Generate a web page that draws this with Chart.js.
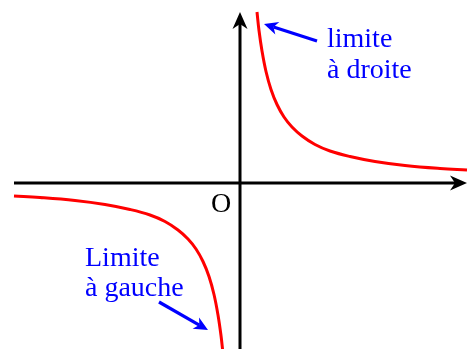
<!DOCTYPE html>
<html>
<head>
<meta charset="utf-8">
<script src="https://cdn.jsdelivr.net/npm/chart.js@4/dist/chart.umd.min.js"></script>
<style>
html,body{margin:0;padding:0;background:#fff;}
#wrap{width:470px;height:349px;}
</style>
</head>
<body>
<div id="wrap"><canvas id="c" width="470" height="349"></canvas></div>
<script>
// Right branch (x > 0)
const rightX = [0.34, 0.38, 0.44, 0.52, 0.62, 0.74, 0.88, 1.04, 1.24, 1.5, 1.8, 2.2, 2.7, 3.3, 4.0, 4.54];
const rightY = [3.42, 3.05, 2.64, 2.23, 1.87, 1.57, 1.32, 1.12, 0.94, 0.77, 0.64, 0.53, 0.43, 0.35, 0.29, 0.26];
// Left branch (x < 0)
const leftX = [-4.52, -4.0, -3.3, -2.7, -2.2, -1.8, -1.5, -1.24, -1.04, -0.88, -0.74, -0.62, -0.52, -0.44, -0.38, -0.34];
const leftY = [-0.26, -0.29, -0.35, -0.43, -0.53, -0.64, -0.77, -0.94, -1.12, -1.32, -1.57, -1.87, -2.23, -2.64, -3.05, -3.41];
// Axis extents (data units)
const xAxisRange = [-4.52, 4.54];
const yAxisRange = [-3.32, 3.42];
// Texts
const originLabel = 'O';
const rightLabel = ['limite', 'à droite'];
const leftLabel = ['Limite', 'à gauche'];

const toPts = (xs, ys) => xs.map((x, i) => ({x: x, y: ys[i]}));

function stealth(ctx, tx, ty, angle, len, half, notch, color) {
  ctx.save();
  ctx.translate(tx, ty);
  ctx.rotate(angle);
  ctx.beginPath();
  ctx.moveTo(0, 0);
  ctx.lineTo(-len, -half);
  ctx.lineTo(-len + notch, 0);
  ctx.lineTo(-len, half);
  ctx.closePath();
  ctx.fillStyle = color;
  ctx.fill();
  ctx.restore();
}

function arrowLine(ctx, x1, y1, x2, y2, color, lw, len, half, notch) {
  const a = Math.atan2(y2 - y1, x2 - x1);
  ctx.save();
  ctx.strokeStyle = color;
  ctx.lineWidth = lw;
  ctx.lineCap = 'butt';
  ctx.beginPath();
  ctx.moveTo(x1, y1);
  ctx.lineTo(x2 - Math.cos(a) * (len - notch), y2 - Math.sin(a) * (len - notch));
  ctx.stroke();
  ctx.restore();
  stealth(ctx, x2, y2, a, len, half, notch, color);
}

const axesPlugin = {
  id: 'axesPlugin',
  beforeDatasetsDraw(chart) {
    const ctx = chart.ctx, xs = chart.scales.x, ys = chart.scales.y;
    const x0 = xs.getPixelForValue(0), y0 = ys.getPixelForValue(0);
    arrowLine(ctx, xs.getPixelForValue(xAxisRange[0]), y0, xs.getPixelForValue(xAxisRange[1]), y0, '#000', 3, 17, 7.5, 5);
    arrowLine(ctx, x0, ys.getPixelForValue(yAxisRange[0]), x0, ys.getPixelForValue(yAxisRange[1]), '#000', 3, 17, 7.5, 5);
  },
  afterDraw(chart) {
    const ctx = chart.ctx, xs = chart.scales.x, ys = chart.scales.y;
    const x0 = xs.getPixelForValue(0), y0 = ys.getPixelForValue(0);
    ctx.save();
    ctx.font = '28px "Liberation Serif", serif';
    ctx.textBaseline = 'alphabetic';
    ctx.fillStyle = '#000';
    ctx.textAlign = 'center';
    ctx.fillText(originLabel, x0 - 19, y0 + 29);
    ctx.textAlign = 'left';
    ctx.fillStyle = '#0000ff';
    ctx.fillText(rightLabel[0], x0 + 87, y0 - 136);
    ctx.fillText(rightLabel[1], x0 + 87, y0 - 105);
    ctx.fillText(leftLabel[0], x0 - 155, y0 + 83);
    ctx.fillText(leftLabel[1], x0 - 155, y0 + 113);
    ctx.restore();
    arrowLine(ctx, x0 + 77, y0 - 142, x0 + 24, y0 - 159, '#0000ff', 3.2, 14, 6.5, 4);
    arrowLine(ctx, x0 - 81, y0 + 119, x0 - 32, y0 + 147, '#0000ff', 3.2, 14, 6.5, 4);
  }
};

new Chart(document.getElementById('c'), {
  type: 'scatter',
  data: {
    datasets: [
      {data: toPts(leftX, leftY), showLine: true, borderColor: '#ff0000', borderWidth: 3, pointRadius: 0, tension: 0.4, fill: false},
      {data: toPts(rightX, rightY), showLine: true, borderColor: '#ff0000', borderWidth: 3, pointRadius: 0, tension: 0.4, fill: false}
    ]
  },
  options: {
    responsive: false,
    animation: false,
    layout: {padding: 0},
    plugins: {legend: {display: false}, tooltip: {enabled: false}},
    scales: {
      x: {type: 'linear', min: -4.8, max: 4.6, display: false},
      y: {type: 'linear', min: -3.32, max: 3.66, display: false}
    }
  },
  plugins: [axesPlugin]
});
</script>
</body>
</html>
